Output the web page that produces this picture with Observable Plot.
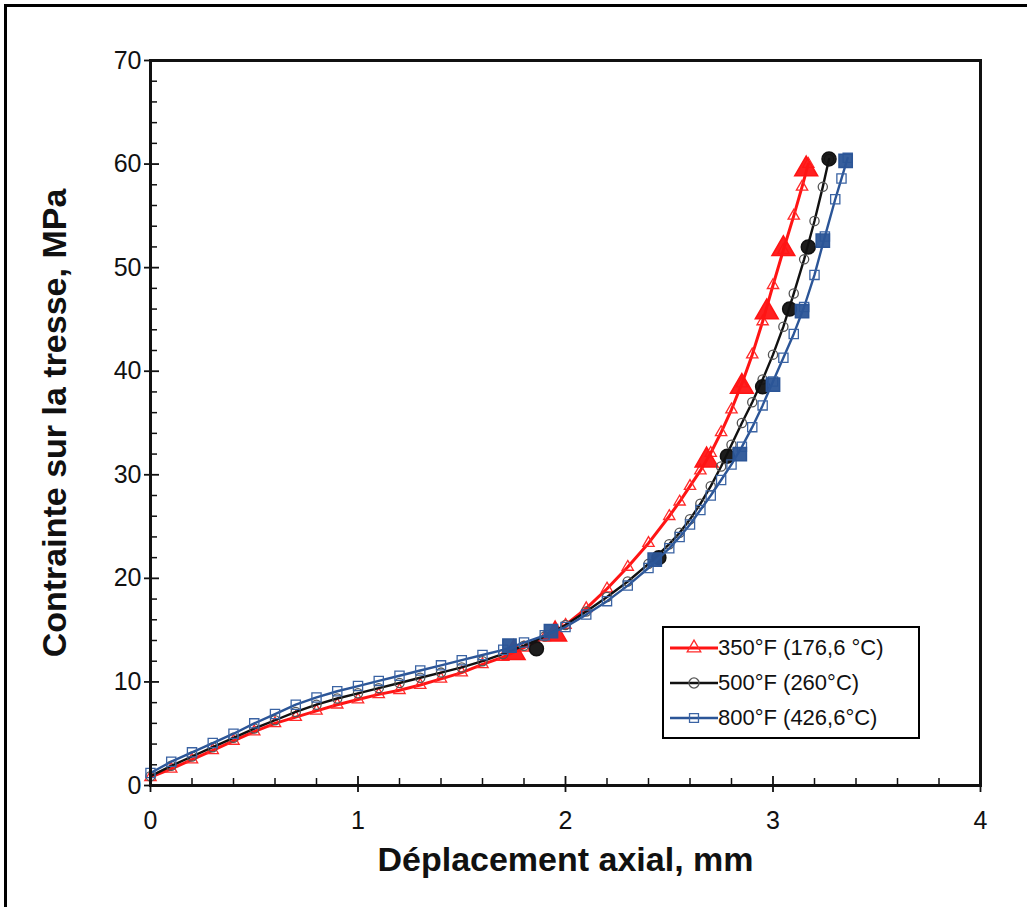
<!DOCTYPE html>
<html><head><meta charset="utf-8">
<script src="https://cdn.jsdelivr.net/npm/d3@7"></script>
<script src="https://cdn.jsdelivr.net/npm/@observablehq/plot@0.6"></script>
<style>
body{margin:0;background:#fff;}
#wrap{position:relative;width:1027px;height:907px;overflow:hidden;font-family:"Liberation Sans",Arial,sans-serif;}
#border{position:absolute;left:4px;top:4px;right:-10px;bottom:-10px;border-top:3px solid #000;border-left:3px solid #000;pointer-events:none}
#legend{position:absolute;left:662px;top:626px;width:254px;height:107px;border:2.5px solid #000;background:#fff;box-sizing:content-box;padding-top:2px}
.row{display:flex;align-items:center;height:35px;font-size:22px;color:#111;white-space:nowrap}
.row svg{margin-left:6px;margin-right:0px}
</style></head><body><div id="wrap"><div id="chart"></div><div id="border"></div><div id="legend"></div></div>
<script>
// ---- Data ----
const seriesNames = ["350°F (176,6 °C)", "500°F (260°C)", "800°F (426,6°C)"];
const seriesColors = ["#ff1414", "#111111", "#2b5597"];
const markerColors = ["#ff2a2a", "#555555", "#3a63a3"];
const seriesSymbols = ["triangle", "circle", "square"];

const xRed = [0,0.1,0.2,0.3,0.4,0.5,0.6,0.7,0.8,0.9,1.0,1.1,1.2,1.3,1.4,1.5,1.6,1.7,1.8,1.9,2.0,2.1,2.2,2.3,2.4,2.5,2.55,2.6,2.65,2.7,2.75,2.8,2.85,2.9,2.95,3.0,3.05,3.1,3.14,3.17];
const yRed = [0.8,1.6,2.5,3.4,4.3,5.2,6.0,6.6,7.2,7.8,8.3,8.8,9.2,9.7,10.3,10.9,11.7,12.4,13.3,14.3,15.5,17.1,19.0,21.1,23.4,26.0,27.4,28.9,30.4,32.1,34.1,36.3,38.8,41.6,44.8,48.3,51.7,55.0,57.8,60.0];

const xBlack = [0,0.1,0.2,0.3,0.4,0.5,0.6,0.7,0.8,0.9,1.0,1.1,1.2,1.3,1.4,1.5,1.6,1.7,1.8,1.9,2.0,2.1,2.2,2.3,2.4,2.5,2.55,2.6,2.65,2.7,2.75,2.8,2.85,2.9,2.95,3.0,3.05,3.1,3.15,3.2,3.24,3.27];
const yBlack = [0.9,1.9,2.8,3.7,4.6,5.5,6.3,7.1,7.8,8.4,8.9,9.4,9.9,10.4,10.9,11.4,12.0,12.7,13.5,14.4,15.5,16.8,18.2,19.7,21.4,23.3,24.4,25.7,27.2,28.9,30.8,32.9,35.0,37.0,39.2,41.6,44.3,47.5,50.8,54.5,57.8,60.5];

const xBlue = [0,0.1,0.2,0.3,0.4,0.5,0.6,0.7,0.8,0.9,1.0,1.1,1.2,1.3,1.4,1.5,1.6,1.7,1.8,1.9,2.0,2.1,2.2,2.3,2.4,2.5,2.55,2.6,2.65,2.7,2.75,2.8,2.85,2.9,2.95,3.0,3.05,3.1,3.15,3.2,3.25,3.3,3.33,3.36];
const yBlue = [1.2,2.3,3.2,4.1,5.0,6.0,6.9,7.8,8.5,9.1,9.6,10.1,10.6,11.1,11.6,12.1,12.6,13.1,13.8,14.5,15.3,16.5,17.8,19.3,21.0,22.9,24.0,25.2,26.6,28.0,29.5,31.0,32.7,34.6,36.7,39.0,41.3,43.6,46.2,49.3,53.0,56.6,58.6,60.6];

// clusters of dense (overlapping) markers at load-hold levels
const xRedHold = [1.75,1.95,2.68,2.85,2.97,3.05,3.16];
const yRedHold = [12.8,14.6,31.4,38.5,45.7,51.8,59.5];
const xBlackHold = [1.86,2.45,2.78,2.95,3.08,3.17,3.27];
const yBlackHold = [13.2,22.0,31.8,38.5,46.0,52.0,60.5];
const xBlueHold = [1.73,1.93,2.43,2.84,3.0,3.14,3.24,3.35];
const yBlueHold = [13.5,14.9,21.8,32.0,38.7,45.8,52.6,60.3];

const xTicks = [0,1,2,3,4];
const xMinor = [0.2,0.4,0.6,0.8,1.2,1.4,1.6,1.8,2.2,2.4,2.6,2.8,3.2,3.4,3.6,3.8];
const yTicks = [0,10,20,30,40,50,60,70];
const yMinor = [2,4,6,8,12,14,16,18,22,24,26,28,32,34,36,38,42,44,46,48,52,54,56,58,62,64,66,68];

const xLabel = "Déplacement axial, mm";
const yLabel = "Contrainte sur la tresse, MPa";

// ---- build tables ----
const zip = (xs, ys) => xs.map((x, i) => ({x, y: ys[i]}));
const series = [zip(xRed, yRed), zip(xBlack, yBlack), zip(xBlue, yBlue)];
const holds = [zip(xRedHold, yRedHold), zip(xBlackHold, yBlackHold), zip(xBlueHold, yBlueHold)];

const W = 1027, H = 907, mL = 150, mR = 47, mT = 60, mB = 122;
const plotW = W - mL - mR, plotH = H - mT - mB;
const font = "'Liberation Sans', Arial, sans-serif";

const marks = [];
const lineWidths = [3, 2.4, 2.4];
const radii = [4.2, 4.6, 5.2];
const holdR = [8.5, 7, 7.5];
series.forEach((data, i) => {
  marks.push(Plot.line(data, {x: "x", y: "y", stroke: seriesColors[i], strokeWidth: lineWidths[i]}));
  marks.push(Plot.dot(data, {x: "x", y: "y", symbol: seriesSymbols[i], r: radii[i], stroke: markerColors[i], strokeWidth: 1.3, fill: "none"}));
  marks.push(Plot.dot(holds[i], {x: "x", y: "y", symbol: seriesSymbols[i], r: holdR[i], stroke: seriesColors[i], fill: seriesColors[i], fillOpacity: 0.95}));
});

const chart = Plot.plot({
  width: W, height: H,
  marginLeft: mL, marginRight: mR, marginTop: mT, marginBottom: mB,
  style: {fontFamily: font, background: "#fff", color: "#111"},
  x: {domain: [0, 4]},
  y: {domain: [0, 70]},
  marks: [
    ...marks,
    Plot.tickX(xMinor, {x: d => d, insetTop: plotH - 7, stroke: "#111", strokeWidth: 1.5}),
    Plot.tickX(xTicks, {x: d => d, insetTop: plotH - 9, stroke: "#111", strokeWidth: 1.8}),
    Plot.tickY(yMinor, {y: d => d, insetRight: plotW - 7, stroke: "#111", strokeWidth: 1.5}),
    Plot.tickY(yTicks, {y: d => d, insetRight: plotW - 9, stroke: "#111", strokeWidth: 1.8}),
    Plot.axisX(xTicks, {tickSize: 7, tickPadding: 19, fontSize: 25, label: null, tickFormat: d => String(d), strokeWidth: 1.8}),
    Plot.axisY(yTicks, {tickSize: 6, tickPadding: 3, fontSize: 25, label: null, tickFormat: d => String(d), strokeWidth: 1.8}),
    Plot.frame({stroke: "#111", strokeWidth: 3}),
    Plot.text([xLabel], {frameAnchor: "bottom", textAnchor: "middle", dy: 85, fontSize: 34, fontWeight: "bold", fill: "#111"}),
    Plot.text([yLabel], {frameAnchor: "left", textAnchor: "middle", dx: -95, rotate: -90, fontSize: 34, fontWeight: "bold", fill: "#111"})
  ]
});
document.getElementById("chart").appendChild(chart);

// ---- legend ----
const legend = d3.select("#legend");
const symMap = {triangle: d3.symbolTriangle, circle: d3.symbolCircle, square: d3.symbolSquare};
seriesNames.forEach((name, i) => {
  const row = legend.append("div").attr("class", "row");
  const svg = row.append("svg").attr("width", 48).attr("height", 20);
  svg.append("line").attr("x1", 0).attr("x2", 48).attr("y1", 10).attr("y2", 10)
    .attr("stroke", seriesColors[i]).attr("stroke-width", lineWidths[i]);
  svg.append("path").attr("transform", "translate(24,10)")
    .attr("d", d3.symbol(symMap[seriesSymbols[i]], 80)())
    .attr("fill", "none").attr("stroke", markerColors[i]).attr("stroke-width", 1.3);
  row.append("span").text(name);
});
</script></body></html>
